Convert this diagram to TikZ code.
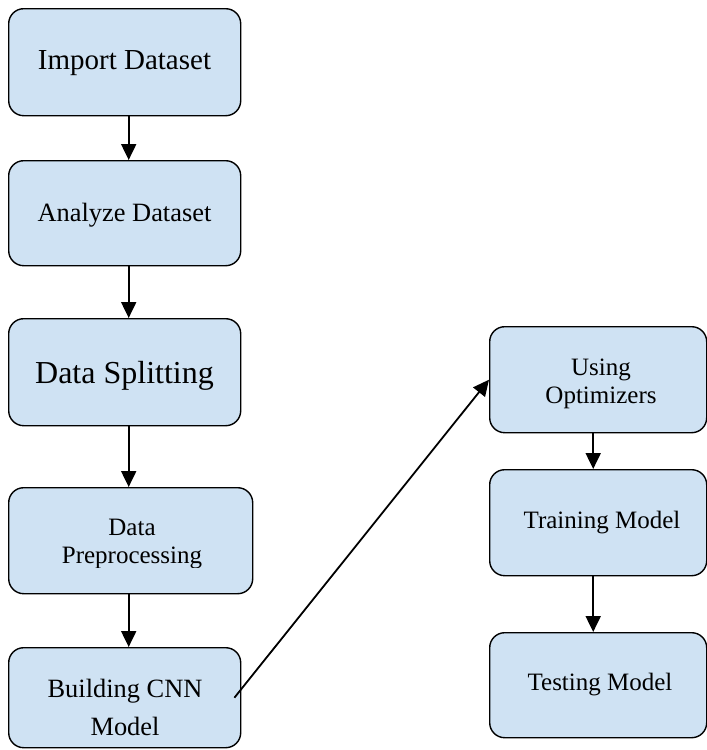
\documentclass[tikz,border=0pt]{standalone}
\usepackage{fontspec}
\setmainfont{Liberation Serif}
\usetikzlibrary{arrows.meta}
\definecolor{boxblue}{HTML}{CFE2F3}
\tikzset{
  procbox/.style={draw=black, line width=1.4pt, fill=boxblue, rounded corners=15pt,
    inner sep=0pt, anchor=north west},
  lbl/.style={inner sep=0pt, align=center, text=black},
  flow/.style={line width=2pt, -{Triangle[length=16pt,width=15pt]}},
}
\begin{document}
\begin{tikzpicture}[x=1pt,y=-1pt]
\useasboundingbox (0,0) rectangle (707,750);
% left column
\node[procbox, minimum width=232pt, minimum height=107pt] (imp) at (8,8) {};
\node[procbox, minimum width=232pt, minimum height=105pt] (ana) at (8,160) {};
\node[procbox, minimum width=232pt, minimum height=107pt] (spl) at (8,318) {};
\node[procbox, minimum width=244pt, minimum height=106pt] (pre) at (8,487) {};
\node[procbox, minimum width=232pt, minimum height=100pt] (cnn) at (8,647) {};
% right column
\node[procbox, minimum width=217pt, minimum height=106pt] (opt) at (489,326) {};
\node[procbox, minimum width=217pt, minimum height=106pt] (trn) at (489,469) {};
\node[procbox, minimum width=217pt, minimum height=105pt] (tst) at (489,632) {};
% labels
\node[lbl, font=\fontsize{29}{34}\selectfont] (timp) at (124.5,63) {Import Dataset};
\node[lbl, font=\fontsize{26.4}{30}\selectfont] (tana) at (124.5,215) {Analyze Dataset};
\node[lbl, font=\fontsize{32}{36}\selectfont] (tspl) at (124.5,376) {Data Splitting};
\begin{scope}
\clip (8,487) rectangle (252,567);
\node[lbl, font=\fontsize{25}{28}\selectfont, anchor=base] (tpre) at (132,563) {Data\\Preprocessing};
\end{scope}
\node[lbl, font=\fontsize{26.4}{38}\selectfont, anchor=base] (tcnn) at (125,735) {Building CNN\\Model};
\node[lbl, font=\fontsize{25}{28}\selectfont, anchor=base] (topt) at (601,403) {Using\\Optimizers};
\node[lbl, font=\fontsize{25}{30}\selectfont] (ttrn) at (602,523) {Training Model};
\node[lbl, font=\fontsize{25}{30}\selectfont] (ttst) at (600,685) {Testing Model};
% connectors
\draw[flow] ([xshift=4pt]imp.south) -- ([xshift=4pt]ana.north);
\draw[flow] ([xshift=4pt]ana.south) -- ([xshift=4pt]spl.north);
\draw[flow] ([xshift=4pt]spl.south) -- ([xshift=4pt]spl.south |- pre.north);
\draw[flow] ([xshift=4pt]spl.south |- pre.south) -- ([xshift=4pt]cnn.north);
\coordinate (cnnout) at ([xshift=-7pt]cnn.east);
\draw[flow, line width=1.8pt] (cnnout) -- (opt.west);
\draw[flow] ([xshift=-5pt]opt.south) -- ([xshift=-5pt]trn.north);
\draw[flow] ([xshift=-5pt]trn.south) -- ([xshift=-5pt]tst.north);
\end{tikzpicture}
\end{document}
